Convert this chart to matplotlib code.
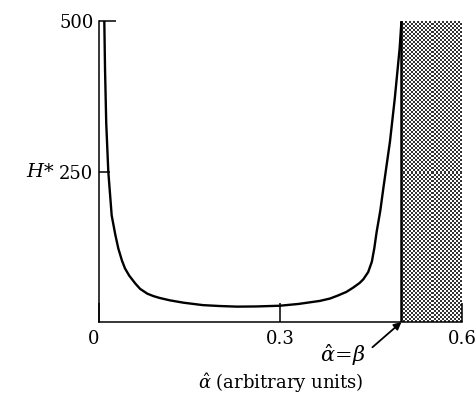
import matplotlib
matplotlib.use("Agg")
import matplotlib.pyplot as plt
import numpy as np

# Curve H*(alpha-hat)
alpha = [0.0088, 0.010, 0.012, 0.0154, 0.021, 0.027, 0.032, 0.038, 0.043, 0.050,
         0.060, 0.068, 0.080, 0.090, 0.100, 0.117, 0.140, 0.172, 0.200, 0.228,
         0.260, 0.299, 0.330, 0.365, 0.382, 0.395, 0.409, 0.420, 0.431, 0.437,
         0.445, 0.451, 0.455, 0.459, 0.465, 0.470, 0.481, 0.489, 0.497, 0.500]
h_star = [500, 420, 330, 250, 177, 145, 122, 102, 89, 77,
          64, 55, 47, 43, 40, 36, 32, 28, 26.5, 25.5,
          25.8, 27, 30, 35, 39, 44, 50, 57, 65, 71,
          83, 100, 122, 150, 185, 222, 300, 372, 455, 500]

beta = 0.5
x_max = 0.6
y_max = 500
x_ticks = [0, 0.3, 0.6]
x_tick_labels = ["0", "0.3", "0.6"]
y_ticks = [250, 500]
y_tick_labels = ["250", "500"]

plt.rcParams["font.family"] = "DejaVu Serif"
plt.rcParams["mathtext.fontset"] = "dejavuserif"

fig = plt.figure(figsize=(4.77, 3.98), dpi=100)
ax = fig.add_axes([0.2075, 0.191, 0.761, 0.756])

# stippled region alpha-hat > beta (2-pixel checkerboard screen)
stipple = (np.add.outer(np.arange(150), np.arange(30)) % 2).astype(float)
ax.imshow(stipple, cmap="gray", vmin=-0.25, vmax=1, interpolation="nearest",
          extent=[beta, x_max, 0, y_max], aspect="auto", zorder=1)
ax.plot([beta, beta], [0, y_max], color="black", lw=1.8,
        solid_capstyle="butt", zorder=3)

ax.plot(alpha, h_star, color="black", lw=1.7, solid_joinstyle="round", zorder=3)

ax.set_xlim(0, x_max)
ax.set_ylim(0, y_max)
for s in ("top", "right"):
    ax.spines[s].set_visible(False)
for s in ("left", "bottom"):
    ax.spines[s].set_linewidth(1.1)
    ax.spines[s].set_zorder(4)

ax.set_xticks(x_ticks)
ax.set_xticklabels(x_tick_labels)
ax.set_yticks(y_ticks)
ax.set_yticklabels(y_tick_labels)
ax.tick_params(axis="both", direction="in", width=1.1, labelsize=13)
ax.tick_params(axis="x", length=14, pad=6)
ax.tick_params(axis="y", length=8, pad=4)
# the top tick runs a little further into the plot
ax.yaxis.get_major_ticks()[1].tick1line.set_markersize(12)
ax.xaxis.get_major_ticks()[0].label1.set_horizontalalignment("right")
ax.xaxis.get_major_ticks()[0].label1.set_x(-0.003)

ax.text(-0.073, 250, "$H$*", fontsize=14, ha="right", va="center",
        clip_on=False)

ax.annotate("", xy=(beta, 0), xytext=(0.452, -42), annotation_clip=False,
            arrowprops=dict(arrowstyle="-|>", color="black", lw=1.3,
                            shrinkA=0, shrinkB=0, mutation_scale=11))
ax.text(0.404, -55, r"$\hat{\alpha}\!=\!\beta$", fontsize=15,
        ha="center", va="center", clip_on=False)

fig.text(0.589, 0.037, r"$\hat{\alpha}$ (arbitrary units)", fontsize=13,
         ha="center", va="center")

fig.savefig("out.png", dpi=100)
